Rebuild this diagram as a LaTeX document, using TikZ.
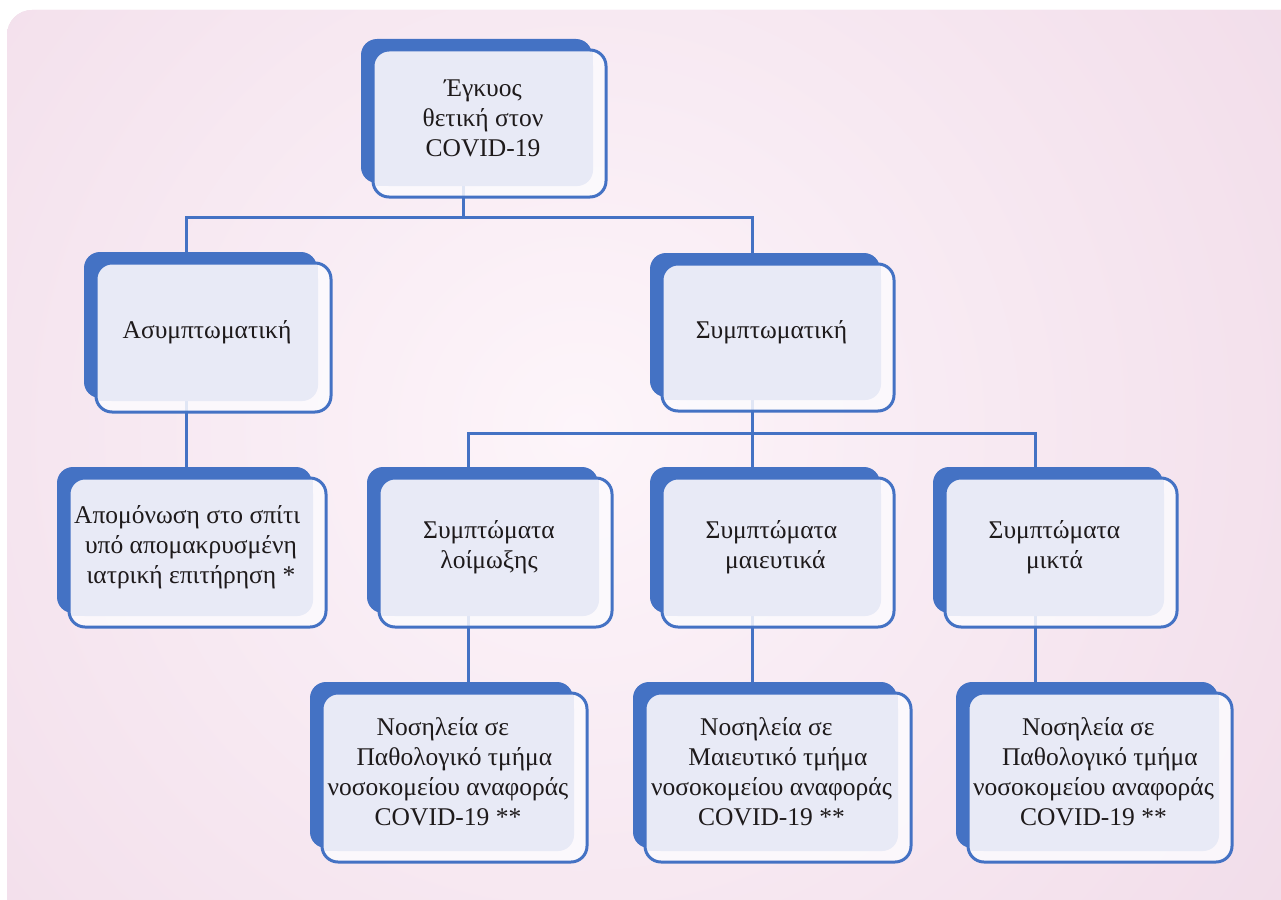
\documentclass[tikz,border=0pt]{standalone}
\usepackage{fontspec}
\setmainfont{Liberation Serif}
\usetikzlibrary{calc}
\definecolor{bgpink}{RGB}{241,220,233}
\definecolor{bglight}{RGB}{253,245,250}
\definecolor{boxblue}{RGB}{68,114,196}
\definecolor{lav}{RGB}{232,234,246}
\definecolor{framewhite}{RGB}{252,251,254}
\definecolor{txtcol}{RGB}{30,26,27}
\pgfdeclarelayer{bg}
\pgfdeclarelayer{lines}
\pgfsetlayers{bg,lines,main}
\tikzset{
  bluebox/.style={fill=boxblue, rounded corners=16pt},
  framebox/.style={draw=boxblue, line width=3pt, rounded corners=16pt},
  framefill/.style={fill=framewhite, fill opacity=0.85, rounded corners=16pt},
  boxtext/.style={inner sep=0pt, align=center, text=txtcol, font=\fontsize{25.5}{30}\selectfont},
  conn/.style={draw=boxblue, line width=3pt},
}
\newcommand\flowbox[6]{%
  \fill[bluebox] (#2,#3) rectangle (#4,#5);
  \fill[framefill] (#2+12,#3+11) rectangle (#4+14,#5+14);
  \begin{scope}
    \clip[rounded corners=16pt] (#2+12,#3+11) rectangle (#4+14,#5+14);
    \fill[lav, rounded corners=16pt] (#2+12,#3+11) rectangle (#4+1,#5+3);
    \fill[lav] (#2+12,#3+11) rectangle (#4+1,#5-17);
    \fill[lav] (#2+12,#3+11) rectangle (#4-19,#5+3);
  \end{scope}
  \draw[framebox] (#2+12,#3+11) rectangle (#4+14,#5+14);
  \pgfmathsetmacro\bw{#4-#2-11}%
  \pgfmathsetmacro\bh{#5-#3-8}%
  \node[boxtext, minimum width=\bw pt, minimum height=\bh pt] (#1) at ({(#2+#4+13)/2},{(#3+#5+14)/2}) {#6};
}
\begin{document}
\begin{tikzpicture}[x=1pt,y=-1pt]
\useasboundingbox (0,0) rectangle (1281,899);
\begin{pgfonlayer}{bg}
  \begin{scope}
    \clip (0,0) rectangle (1281,899);
    \fill[bgpink, rounded corners=25pt] (7,10) rectangle (1320,940);
    \clip[rounded corners=25pt] (7,10) rectangle (1320,940);
    \shade[inner color=bglight, outer color=bgpink] (580,430) circle (880pt);
  \end{scope}
\end{pgfonlayer}

\flowbox{top}{361}{39}{592}{183}{Έγκυος\\θετική στον\\COVID-19}
\flowbox{asym}{84}{252}{317}{398}{Ασυμπτωματική}
\flowbox{sym}{650}{253}{880}{397}{Συμπτωματική}
\flowbox{apo}{57}{467}{312}{613}{Απομόνωση στο σπίτι\hspace*{0.3em}\\υπό απομακρυσμένη\hspace*{0.3em}\\ιατρική επιτήρηση *}
\flowbox{inf}{367}{467}{598}{613}{Συμπτώματα\\λοίμωξης}
\flowbox{obs}{650}{467}{880}{613}{Συμπτώματα\\\hspace*{0.3em}μαιευτικά}
\flowbox{mix}{933}{467}{1163}{613}{Συμπτώματα\\μικτά}
\flowbox{nos1}{310}{682}{573}{848}{Νοσηλεία σε\hspace*{0.4em}\\\hspace*{0.5em}Παθολογικό τμήμα\\νοσοκομείου αναφοράς\\COVID-19 **}
\flowbox{nos2}{633}{682}{897}{848}{Νοσηλεία σε\hspace*{0.4em}\\\hspace*{0.5em}Μαιευτικό τμήμα\\νοσοκομείου αναφοράς\\COVID-19 **}
\flowbox{nos3}{956}{682}{1218}{848}{Νοσηλεία σε\hspace*{0.4em}\\\hspace*{0.5em}Παθολογικό τμήμα\\νοσοκομείου αναφοράς\\COVID-19 **}

\begin{pgfonlayer}{lines}
  \coordinate (bar1) at ($(top.south)+(0,31)$);
  \draw[conn] ([xshift=-20pt]top.south) -- ([xshift=-20pt]top.south |- bar1);
  \draw[conn] ([xshift=-21pt]asym.north) |- (bar1) -| ([xshift=-19.5pt]sym.north);
  \draw[conn] ([xshift=-21pt]asym.south) -- ([xshift=-21pt]asym.south |- apo.north);
  \coordinate (bar2) at ($(sym.south)+(0,33)$);
  \draw[conn] ([xshift=-19.5pt]sym.south) -- ([xshift=-19.5pt]obs.north);
  \draw[conn] ([xshift=-20.5pt]inf.north) |- (bar2) -| ([xshift=-19.5pt]mix.north);
  \draw[conn] ([xshift=-20.5pt]inf.south) -- ([xshift=-20.5pt]inf.south |- nos1.north);
  \draw[conn] ([xshift=-19.5pt]obs.south) -- ([xshift=-19.5pt]obs.south |- nos2.north);
  \draw[conn] ([xshift=-19.5pt]mix.south) -- ([xshift=-19.5pt]mix.south |- nos3.north);
\end{pgfonlayer}
\end{tikzpicture}
\end{document}
